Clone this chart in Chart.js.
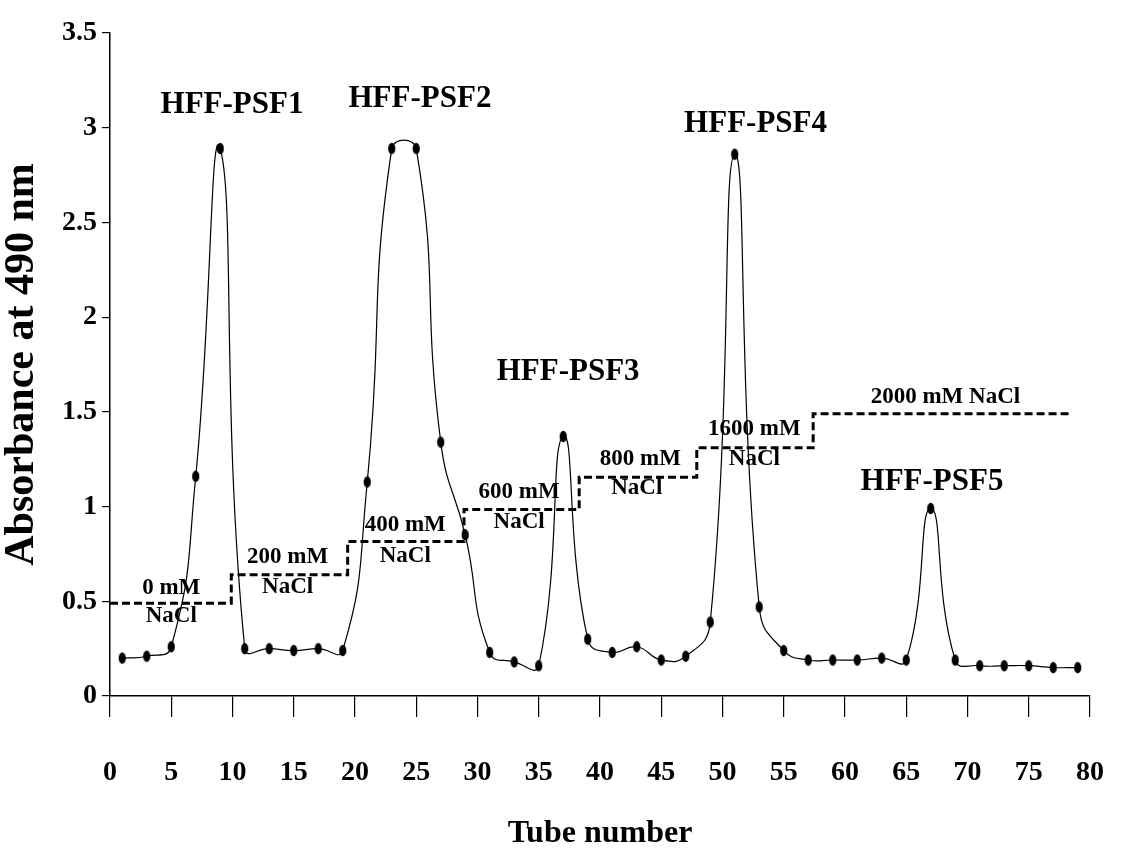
<!DOCTYPE html>
<html>
<head>
<meta charset="utf-8">
<script src="https://cdn.jsdelivr.net/npm/chart.js@4.4.0/dist/chart.umd.min.js"></script>
<style>
    html, body { margin: 0; padding: 0; background: #fff; }
</style>
</head>
<body>
<canvas id="elutionChart" width="1121" height="850"></canvas>
<script>
// Profil d'élution : numéro de tube / absorbance à 490 nm
const tubes = [1, 3, 5, 7, 9, 11, 13, 15, 17, 19,
    21, 23, 25, 27, 29, 31, 33, 35, 37, 39,
    41, 43, 45, 47, 49, 51, 53, 55, 57, 59,
    61, 63, 65, 67, 69, 71, 73, 75, 77, 79];
const absorbance = [0.20, 0.21, 0.26, 1.16, 2.89, 0.25, 0.25, 0.24, 0.25, 0.24,
    1.13, 2.89, 2.89, 1.34, 0.85, 0.23, 0.18, 0.16, 1.37, 0.30,
    0.23, 0.26, 0.19, 0.21, 0.39, 2.86, 0.47, 0.24, 0.19, 0.19,
    0.19, 0.20, 0.19, 0.99, 0.19, 0.16, 0.16, 0.16, 0.15, 0.15];

// Gradient de NaCl par paliers
const stepEdges = [0, 9.9, 19.4, 28.9, 38.3, 47.9, 57.4, 78.4];
const stepLevels = [0.49, 0.64, 0.815, 0.985, 1.155, 1.31, 1.49];

const xTicks = [0, 5, 10, 15, 20, 25, 30, 35, 40, 45, 50, 55, 60, 65, 70, 75, 80];
const yTicks = [0, 0.5, 1, 1.5, 2, 2.5, 3, 3.5];

// Textes posés sur le graphique (coordonnées des axes)
const peakLabels = [
    { text: "HFF-PSF1", x: 9.96, y: 3.12 },
    { text: "HFF-PSF2", x: 25.3, y: 3.15 },
    { text: "HFF-PSF3", x: 37.4, y: 1.71 },
    { text: "HFF-PSF4", x: 52.7, y: 3.02 },
    { text: "HFF-PSF5", x: 67.1, y: 1.13 },
];
const saltLabels = [
    { text: "0 mM", x: 5.0, y: 0.57 }, { text: "NaCl", x: 5.0, y: 0.42 },
    { text: "200 mM", x: 14.5, y: 0.735 }, { text: "NaCl", x: 14.5, y: 0.577 },
    { text: "400 mM", x: 24.1, y: 0.90 }, { text: "NaCl", x: 24.1, y: 0.738 },
    { text: "600 mM", x: 33.4, y: 1.077 }, { text: "NaCl", x: 33.4, y: 0.92 },
    { text: "800 mM", x: 43.3, y: 1.249 }, { text: "NaCl", x: 43.0, y: 1.10 },
    { text: "1600 mM", x: 52.6, y: 1.407 }, { text: "NaCl", x: 52.6, y: 1.249 },
    { text: "2000 mM NaCl", x: 68.2, y: 1.577 },
];

const FONT = "'Liberation Serif', 'Times New Roman', serif";

// marqueur en ellipse noire
const dot = document.createElement("canvas");
dot.width = 9;
dot.height = 13;
const dctx = dot.getContext("2d");
dctx.fillStyle = "#000";
dctx.beginPath();
dctx.ellipse(4.5, 6.5, 3.6, 5.8, 0, 0, Math.PI * 2);
dctx.fill();

const stepPoints = [];
stepLevels.forEach((lvl, i) => {
    stepPoints.push({ x: stepEdges[i], y: lvl });
    stepPoints.push({ x: stepEdges[i + 1], y: lvl });
});

const notesPlugin = {
    id: "notes",
    afterDatasetsDraw(chart) {
        const { ctx, scales: { x, y } } = chart;
        ctx.save();
        ctx.fillStyle = "#000";
        ctx.textAlign = "center";
        ctx.textBaseline = "middle";
        ctx.font = "bold 31px " + FONT;
        peakLabels.forEach(l => ctx.fillText(l.text, x.getPixelForValue(l.x), y.getPixelForValue(l.y)));
        ctx.font = "bold 23px " + FONT;
        saltLabels.forEach(l => ctx.fillText(l.text, x.getPixelForValue(l.x), y.getPixelForValue(l.y)));
        ctx.restore();
    },
};

new Chart(document.getElementById("elutionChart"), {
    type: "line",
    data: {
        datasets: [{
            label: "Absorbance",
            data: tubes.map((t, i) => ({ x: t, y: absorbance[i] })),
            borderColor: "#000",
            borderWidth: 1.2,
            tension: 0.5,
            pointStyle: dot,
            pointRadius: 5,
            fill: false,
        }, {
            label: "NaCl",
            data: stepPoints,
            borderColor: "#000",
            borderWidth: 3,
            borderDash: [8, 4],
            pointRadius: 0,
            tension: 0,
            fill: false,
        }],
    },
    options: {
        responsive: false,
        animation: false,
        layout: { padding: { left: 0, right: 31, top: 33, bottom: 0 } },
        plugins: {
            legend: { display: false },
            tooltip: { enabled: false },
        },
        scales: {
            x: {
                type: "linear",
                min: 0,
                max: 80,
                afterBuildTicks: s => { s.ticks = xTicks.map(v => ({ value: v })); },
                afterFit: s => {
                    s.height = 154;
                    // la marge des libellés ne doit pas rétrécir la zone du graphique
                    s.paddingLeft = 0;
                    s.paddingRight = 0;
                },
                ticks: {
                    color: "#000",
                    padding: 39,
                    maxRotation: 0,
                    autoSkip: false,
                    callback: v => String(v),
                    font: { family: FONT, size: 28, weight: "bold" },
                },
                grid: { drawOnChartArea: false, tickLength: 21, color: "#000", lineWidth: 1.2 },
                border: { color: "#000", width: 1.5 },
                title: {
                    display: true,
                    text: "Tube number",
                    color: "#000",
                    padding: 0,
                    font: { family: FONT, size: 32, weight: "bold", lineHeight: 1 },
                },
            },
            y: {
                min: 0,
                max: 3.5,
                afterBuildTicks: s => { s.ticks = yTicks.map(v => ({ value: v })); },
                afterFit: s => { s.width = 110; },
                ticks: {
                    color: "#000",
                    padding: 5,
                    callback: v => String(v),
                    font: { family: FONT, size: 28, weight: "bold" },
                },
                grid: { drawOnChartArea: false, tickLength: 8, color: "#000", lineWidth: 1.2 },
                border: { color: "#000", width: 1.5 },
                title: {
                    display: true,
                    text: "Absorbance at 490 nm",
                    color: "#000",
                    padding: 0,
                    font: { family: FONT, size: 42, weight: "bold", lineHeight: 1.05 },
                },
            },
        },
    },
    plugins: [notesPlugin],
});
</script>
</body>
</html>
